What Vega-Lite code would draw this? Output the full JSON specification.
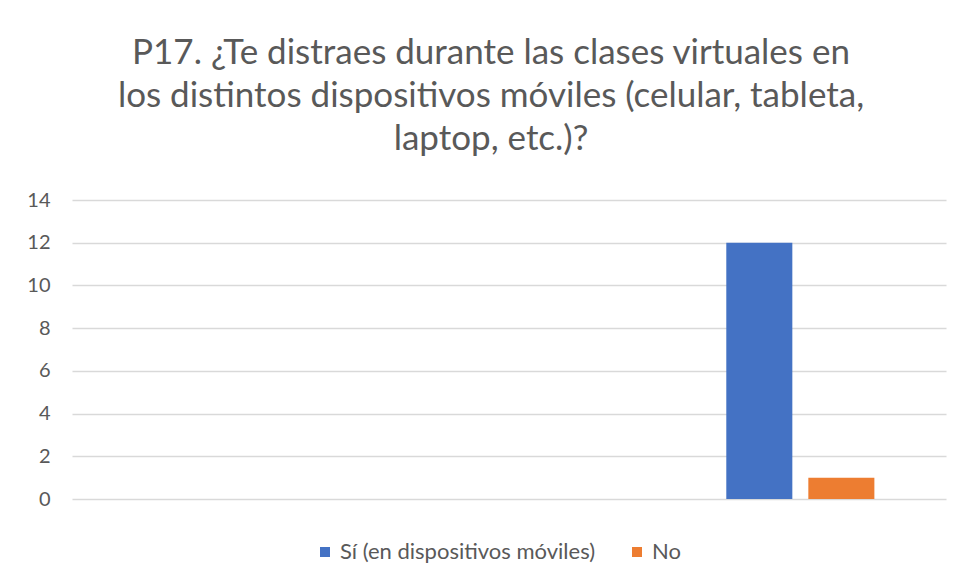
{
  "$schema": "https://vega.github.io/schema/vega-lite/v6.json",
  "width": 874,
  "height": 299,
  "autosize": {"type": "none"},
  "padding": {"left": 72, "top": 200, "right": 20, "bottom": 89},
  "background": "white",
  "title": {
    "text": ["P17. ¿Te distraes durante las clases virtuales en", "los distintos dispositivos móviles (celular, tableta,", "laptop, etc.)?"],
    "font": "Lato",
    "fontSize": 35,
    "fontWeight": "normal",
    "color": "#595959",
    "lineHeight": 43,
    "anchor": "middle",
    "frame": "group",
    "dx": -18,
    "offset": 33
  },
  "data": {
    "values": [
      {"grupo": "3", "serie": "Sí (en dispositivos móviles)", "valor": 12},
      {"grupo": "3", "serie": "No", "valor": 1}
    ]
  },
  "mark": {"type": "bar"},
  "encoding": {
    "x": {
      "field": "grupo",
      "type": "nominal",
      "scale": {"domain": ["1", "2", "3"], "paddingInner": 0, "paddingOuter": 0},
      "axis": null
    },
    "xOffset": {
      "field": "serie",
      "type": "nominal",
      "sort": ["Sí (en dispositivos móviles)", "No"],
      "scale": {"paddingInner": 0.195, "paddingOuter": 0.873}
    },
    "y": {
      "field": "valor",
      "type": "quantitative",
      "scale": {"domain": [0, 14]},
      "axis": {
        "values": [0, 2, 4, 6, 8, 10, 12, 14],
        "title": null,
        "domain": false,
        "ticks": false,
        "labelFont": "Lato",
        "labelFontSize": 20,
        "labelColor": "#595959",
        "labelPadding": 22,
        "gridColor": "#d9d9d9",
        "gridWidth": 1.5
      }
    },
    "color": {
      "field": "serie",
      "type": "nominal",
      "sort": ["Sí (en dispositivos móviles)", "No"],
      "scale": {"domain": ["Sí (en dispositivos móviles)", "No"], "range": ["#4472C4", "#ED7D31"]},
      "legend": {
        "title": null,
        "orient": "none",
        "direction": "horizontal",
        "legendX": 242,
        "legendY": 341,
        "symbolType": "square",
        "symbolSize": 100,
        "symbolStrokeWidth": 0,
        "labelFont": "Lato",
        "labelFontSize": 22,
        "labelLimit": 500,
        "labelColor": "#595959",
        "labelOffset": 4,
        "columnPadding": 30
      }
    }
  },
  "config": {
    "view": {"stroke": null},
    "bar": {"opacity": 1}
  }
}
